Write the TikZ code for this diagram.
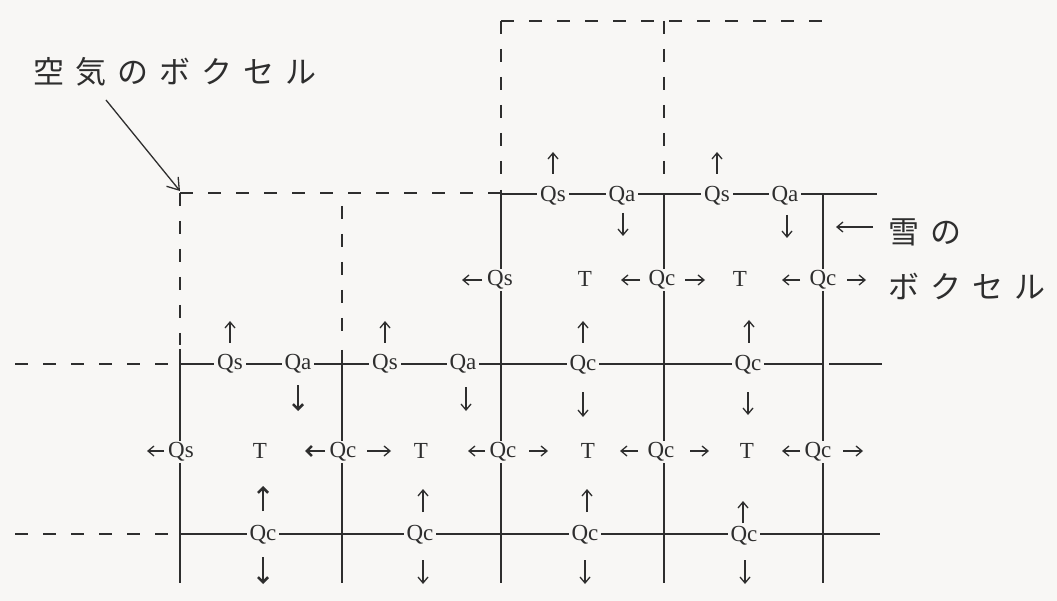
\documentclass[tikz,border=0pt]{standalone}
\usepackage{fontspec}
\setmainfont{Liberation Serif}
\newfontfamily\jpfont{Noto Sans CJK JP}
\usetikzlibrary{arrows.meta}
\definecolor{bg}{HTML}{F8F7F5}
\definecolor{ink}{HTML}{2E2E2E}
\newcommand\jsp{\kern11pt}
\begin{document}
\begin{tikzpicture}[x=1pt,y=-1pt,
  gridline/.style={draw=ink,line width=2pt},
  gridthin/.style={draw=ink,line width=1.2pt},
  dsh/.style={draw=ink,line width=2pt,dash pattern=on 13pt off 15pt},
  lbl/.style={fill=bg,inner xsep=3pt,inner ysep=1.5pt,text=ink,font=\fontsize{23}{26}\selectfont},
  arr/.style={draw=ink,line width=1.3pt,-{Straight Barb[length=6pt,width=10pt]}},
  barr/.style={draw=ink,line width=2.6pt,-{Straight Barb[length=5pt,width=10pt]}},
  larr/.style={draw=ink,line width=1.3pt,-{Straight Barb[length=11pt,width=15pt]}},
  jlbl/.style={text=ink,font=\jpfont\fontsize{31}{55}\selectfont,inner sep=0pt,align=left}
]
\fill[bg] (0,0) rectangle (1057,601);
\useasboundingbox (0,0) rectangle (1057,601);

% dashed (air voxels)
\draw[dsh] (501,21) -- (826,21);
\draw[dsh] (501,21) -- (501,185);
\draw[dsh] (664,21) -- (664,185);
\draw[dsh] (180,193) -- (501,193);
\draw[dsh] (180,193) -- (180,345);
\draw[dsh] (342,206) -- (342,345);
\draw[dsh] (15,364) -- (172,364);
\draw[dsh] (15,534) -- (172,534);

% solid grid (snow voxels)
\draw[gridline] (501,194) -- (823,194);
\draw[gridthin] (823,194) -- (877,194);
\draw[gridline] (180,364) -- (823,364);
\draw[gridthin] (829,364) -- (882,364);
\draw[gridline] (180,534) -- (823,534);
\draw[gridthin] (823,534) -- (880,534);
\draw[gridline] (180,349) -- (180,534);
\draw[gridline] (342,350) -- (342,534);
\draw[gridline] (501,190) -- (501,534);
\draw[gridline] (664,195) -- (664,534);
\draw[gridline] (823,194) -- (823,534);
\foreach \x in {180,342,501,664,823} \draw[gridthin] (\x,534) -- (\x,583);

% labels: top right row
\node[lbl] (qs1) at (553,196) {Qs};
\node[lbl] (qa1) at (622,196) {Qa};
\node[lbl] (qs2) at (717,196) {Qs};
\node[lbl] (qa2) at (785,196) {Qa};
% row T (upper)
\node[lbl] (qs3) at (500,280) {Qs};
\node[lbl] (t1) at (585,279) {T};
\node[lbl] (qc1) at (662,280) {Qc};
\node[lbl] (t2) at (740,279) {T};
\node[lbl] (qc2) at (823,280) {Qc};
% middle row
\node[lbl] (qs4) at (230,364) {Qs};
\node[lbl] (qa3) at (298,364) {Qa};
\node[lbl] (qs5) at (385,364) {Qs};
\node[lbl] (qa4) at (463,364) {Qa};
\node[lbl] (qc3) at (583,365) {Qc};
\node[lbl] (qc4) at (748,365) {Qc};
% row T (lower)
\node[lbl] (qs6) at (181,452) {Qs};
\node[lbl] (t3) at (260,451) {T};
\node[lbl] (qc5) at (343,452) {Qc};
\node[lbl] (t4) at (421,451) {T};
\node[lbl] (qc6) at (503,452) {Qc};
\node[lbl] (t5) at (588,451) {T};
\node[lbl] (qc7) at (661,452) {Qc};
\node[lbl] (t6) at (747,451) {T};
\node[lbl] (qc8) at (818,452) {Qc};
% bottom row
\node[lbl] (qc9) at (263,535) {Qc};
\node[lbl] (qc10) at (420,535) {Qc};
\node[lbl] (qc11) at (585,535) {Qc};
\node[lbl] (qc12) at (744,536) {Qc};

% flux arrows (thin)
\draw[arr] (553,174) -- (553,152);
\draw[arr] (717,174) -- (717,152);
\draw[arr] (623,213) -- (623,236);
\draw[arr] (787,215) -- (787,238);
\draw[arr] (482,280) -- (462,280);
\draw[arr] (640,280) -- (621,280);
\draw[arr] (685,280) -- (705,280);
\draw[arr] (800,280) -- (782,280);
\draw[arr] (847,280) -- (866,280);
\draw[arr] (230,343) -- (230,321);
\draw[arr] (385,343) -- (385,321);
\draw[arr] (583,343) -- (583,321);
\draw[arr] (749,343) -- (749,320);
\draw[arr] (466,387) -- (466,411);
\draw[arr] (583,392) -- (583,417);
\draw[arr] (748,392) -- (748,415);
\draw[arr] (164,451) -- (147,451);
\draw[arr] (367,451) -- (391,451);
\draw[arr] (485,451) -- (468,451);
\draw[arr] (529,451) -- (548,451);
\draw[arr] (638,451) -- (620,451);
\draw[arr] (690,451) -- (709,451);
\draw[arr] (800,451) -- (782,451);
\draw[arr] (843,451) -- (863,451);
\draw[arr] (423,512) -- (423,489);
\draw[arr] (587,512) -- (587,489);
\draw[arr] (743,523) -- (743,501);
\draw[arr] (423,560) -- (423,584);
\draw[arr] (585,560) -- (585,584);
\draw[arr] (745,560) -- (745,584);
% flux arrows (bold)
\draw[barr] (298,385) -- (298,411);
\draw[barr] (325,451) -- (305,451);
\draw[barr] (263,511) -- (263,486);
\draw[barr] (263,557) -- (263,584);

% Japanese labels
\node[jlbl,anchor=west] (air) at (33,72) {空\jsp 気\jsp の\jsp ボ\jsp ク\jsp セ\jsp ル};
\coordinate (airtail) at (106,100);
\coordinate (aircorner) at (180,191);
\draw[larr] (airtail) -- (aircorner);

\node[jlbl,anchor=north west] (snow) at (888,219) {雪\jsp の\\ボ\jsp ク\jsp セ\jsp ル};
\coordinate (snowtail) at (873,227);
\coordinate (snowtip) at (836,227);
\draw[arr] (snowtail) -- (snowtip);
\end{tikzpicture}
\end{document}
